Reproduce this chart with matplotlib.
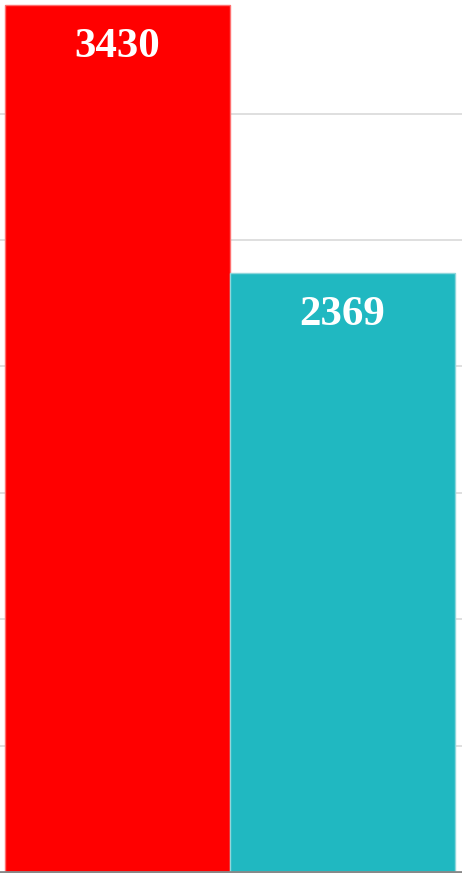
import matplotlib
matplotlib.use("Agg")
import matplotlib.pyplot as plt

categories = ["A", "B"]
values = [3430, 2369]
colors = ["#ff0000", "#20b8c1"]
edge_colors = ["#ff7070", "#8fd6db"]
yticks = [500, 1000, 1500, 2000, 2500, 3000]

fig = plt.figure(figsize=(4.62, 8.73), dpi=100)
ax = fig.add_axes([0, 1.0 / 873, 1, 872.0 / 873])

x = list(range(len(categories)))
bars = ax.bar(x, values, width=1.0, color=colors, edgecolor=edge_colors, linewidth=1.0, zorder=2)

ax.set_xlim(-0.5 - 5 / 225.5, 1.5 + 7 / 225.5)
ax.set_ylim(0, 3450)
ax.set_yticks(yticks)
ax.yaxis.grid(True, color="#d9d9d9", linewidth=1.2, zorder=0)
ax.set_axisbelow(True)
ax.tick_params(left=False, bottom=False, labelleft=False, labelbottom=False)
for s in ["top", "right", "left"]:
    ax.spines[s].set_visible(False)
ax.spines["bottom"].set_color("#888888")
ax.spines["bottom"].set_linewidth(2.0)
ax.spines["bottom"].set_zorder(3)

for xi, v in zip(x, values):
    ax.annotate(str(v), xy=(xi, v), xytext=(0, -30), textcoords="offset points",
                ha="center", va="center", color="white", fontsize=31,
                fontweight="bold", family="Liberation Serif", zorder=4)

fig.savefig("out.png", dpi=100)
